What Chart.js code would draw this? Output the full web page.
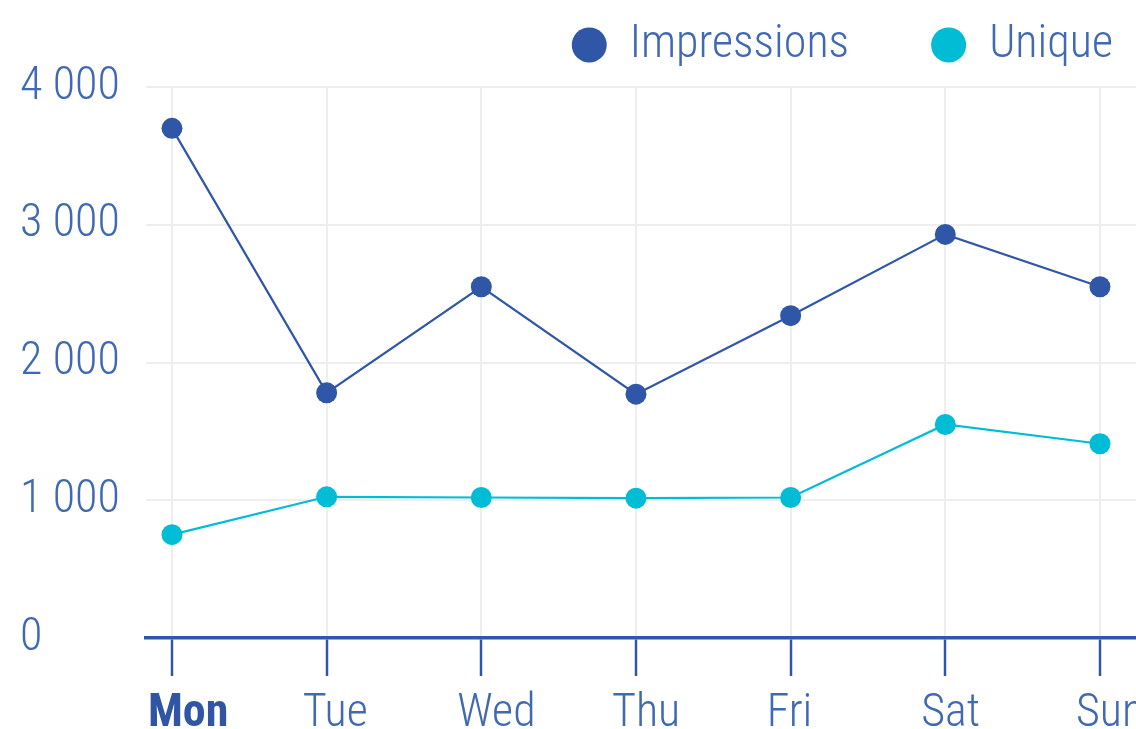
<!DOCTYPE html>
<html><head><meta charset="utf-8">
<script src="https://cdn.jsdelivr.net/npm/chart.js@4"></script>
<style>html,body{margin:0;padding:0;background:#fff;overflow:hidden}canvas{display:block}</style>
</head><body><canvas id="c" width="1136" height="729"></canvas>
<script>
const categories = ['Mon', 'Tue', 'Wed', 'Thu', 'Fri', 'Sat', 'Sun'];
const impressions = [3700, 1780, 2550, 1770, 2340, 2930, 2550];
const unique = [750, 1025, 1020, 1015, 1020, 1550, 1410];
const yTicks = [0, 1000, 2000, 3000, 4000];
const seriesNames = ['Impressions', 'Unique'];
const seriesColors = ['#3056a8', '#00bcd4'];

const FONT = 'Roboto, sans-serif';
const LIGHT = '300 condensed';
const LABEL = '#4069b3';
const AXIS = '#3056a8';
const GRID = '#eeeeee';
const LEGEND_GAP = 82;

const toPts = arr => arr.map((v, i) => ({x: i, y: v}));
const fmt = v => String(v).replace(/\B(?=(\d{3})+(?!\d))/g, ' ');

const legendPlace = {
  id: 'legendPlace',
  afterLayout(chart) {
    const lg = chart.legend;
    lg.top = 22 - LEGEND_GAP;
    lg.right = chart.width - 23 + LEGEND_GAP;
  }
};

new Chart(document.getElementById('c'), {
  type: 'line',
  data: {
    datasets: [impressions, unique].map((arr, k) => ({
      label: seriesNames[k],
      data: toPts(arr),
      borderColor: seriesColors[k],
      backgroundColor: seriesColors[k],
      pointBackgroundColor: seriesColors[k],
      pointBorderWidth: 0,
      pointRadius: 10.5,
      pointHoverRadius: 10.5,
      borderWidth: 2.2,
      tension: 0,
      fill: false,
      clip: false
    }))
  },
  plugins: [legendPlace],
  options: {
    responsive: false,
    animation: false,
    devicePixelRatio: 1,
    layout: {autoPadding: false, padding: {left: 20, right: 0, top: 0, bottom: 0}},
    plugins: {
      tooltip: {enabled: false},
      legend: {
        position: 'top',
        align: 'end',
        maxHeight: 87,
        labels: {
          usePointStyle: true,
          pointStyle: 'circle',
          pointStyleWidth: 35,
          boxHeight: 24.75,
          padding: LEGEND_GAP,
          color: LABEL,
          font: {family: FONT, size: 46, weight: LIGHT}
        }
      }
    },
    scales: {
      x: {
        type: 'linear',
        min: -0.168,
        max: 6.233,
        afterBuildTicks: s => { s.ticks = categories.map((_, i) => ({value: i})); },
        afterFit: s => { s.height = 91; s.paddingLeft = 0; s.paddingRight = 0; },
        grid: {
          color: GRID,
          lineWidth: 2,
          drawTicks: true,
          tickLength: 38,
          tickColor: AXIS,
          tickWidth: 2.5
        },
        border: {display: true, color: AXIS, width: 3.5},
        ticks: {
          padding: 11,
          align: 'start',
          labelOffset: -24,
          maxRotation: 0,
          autoSkip: false,
          callback: v => categories[v],
          color: c => c.index === 0 ? '#2f55a4' : LABEL,
          font: c => ({family: FONT, size: 46, weight: c.index === 0 ? 'bold condensed' : LIGHT})
        }
      },
      y: {
        min: 0,
        max: 4000,
        afterBuildTicks: s => { s.ticks = yTicks.map(v => ({value: v})); },
        afterFit: s => { s.width = 126; },
        grid: {color: GRID, lineWidth: 2, drawTicks: false},
        border: {display: false},
        ticks: {
          crossAlign: 'far',
          padding: 0,
          color: LABEL,
          font: {family: FONT, size: 46, weight: LIGHT},
          callback: v => fmt(v)
        }
      }
    }
  }
});
</script>
</body></html>
